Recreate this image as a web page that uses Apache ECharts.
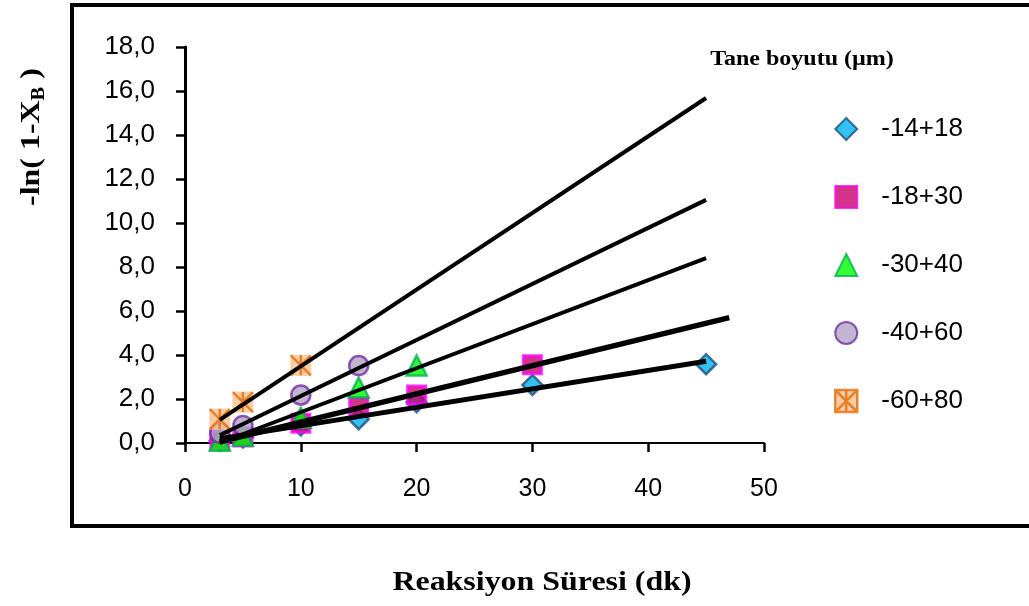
<!DOCTYPE html>
<html>
<head>
<meta charset="utf-8">
<script src="https://cdn.jsdelivr.net/npm/echarts@6/dist/echarts.min.js"></script>
<style>
  html, body { margin: 0; padding: 0; background: #fff; }
  #chart { width: 1029px; height: 606px; }
</style>
</head>
<body>
<div id="chart"></div>
<script>
// reaksiyon süresi (dk) of the measured points
var times = [3, 5, 10, 15, 20, 30, 45];
var sizeNames = ['-14+18', '-18+30', '-30+40', '-40+60', '-60+80'];

// -ln(1-XB) per particle size
var y1418 = [0.1, 0.25, 0.8, 1.08, 1.85, 2.64, 3.58];
var y1830 = [0.12, 0.27, 0.9, 1.65, 2.18, 3.56];
var y3040 = [0.1, 0.33, 1.15, 2.52, 3.52];
var y4060 = [0.45, 0.8, 2.18, 3.52];
var y6080 = [1.09, 1.86, 3.53];

// trend lines, start and end
var fit1418 = [[3, 0.2], [45, 3.72]];
var fit1830 = [[3, 0.05], [47, 5.7]];
var fit3040 = [[3, 0.0], [45, 8.4]];
var fit4060 = [[3, 0.35], [45, 11.05]];
var fit6080 = [[3, 1.05], [45, 15.68]];

var xTicks = [0, 10, 20, 30, 40, 50];
var yTicks = [0, 2, 4, 6, 8, 10, 12, 14, 16, 18];

var starPath = 'path://M0,0L20,20M20,0L0,20M10,0L10,20';
var starIcon = 'path://M0,0L20,0L20,20L0,20ZM0,0L20,20M20,0L0,20M10,0L10,20';

function pts(ys) {
  return ys.map(function (y, i) { return [times[i], y]; });
}

function trend(d, w) {
  return {
    type: 'line',
    data: d,
    symbol: 'none',
    silent: true,
    z: 5,
    lineStyle: { color: '#000', width: w }
  };
}

var chart = echarts.init(document.getElementById('chart'));

chart.setOption({
  animation: false,
  grid: { left: 185, right: 265, top: 47, bottom: 163 },
  xAxis: {
    type: 'value',
    min: xTicks[0],
    max: xTicks[xTicks.length - 1],
    interval: 10,
    splitLine: { show: false },
    axisLine: { lineStyle: { color: '#000', width: 2 } },
    axisTick: { length: 9, lineStyle: { color: '#000', width: 2.5 } },
    axisLabel: { fontSize: 25, margin: 34, color: '#000', fontFamily: 'Liberation Sans' }
  },
  yAxis: {
    type: 'value',
    min: yTicks[0],
    max: yTicks[yTicks.length - 1],
    interval: 2,
    splitLine: { show: false },
    axisLine: { show: true, lineStyle: { color: '#000', width: 3 } },
    axisTick: { show: true, length: 9, lineStyle: { color: '#000', width: 2.5 } },
    axisLabel: {
      fontSize: 26, margin: 30, color: '#000', fontFamily: 'Liberation Sans',
      formatter: function (v) { return v.toFixed(1).replace('.', ','); }
    }
  },
  legend: {
    orient: 'vertical',
    left: 834,
    top: 116,
    padding: 0,
    itemWidth: 22,
    itemHeight: 22,
    itemGap: 42,
    textStyle: { fontSize: 26, fontFamily: 'Liberation Sans', color: '#000', padding: [0, 0, 0, 19], lineHeight: 26 },
    data: [
      { name: sizeNames[0], icon: 'diamond' },
      { name: sizeNames[1], icon: 'rect' },
      { name: sizeNames[2], icon: 'triangle' },
      { name: sizeNames[3], icon: 'circle' },
      { name: sizeNames[4], icon: starIcon, itemStyle: { color: '#fac090', borderColor: '#e46c0a', borderWidth: 2.5 } }
    ]
  },
  graphic: [
    {
      type: 'rect',
      shape: { x: 72, y: 5, width: 1000, height: 521 },
      style: { fill: 'none', stroke: '#000', lineWidth: 4 }
    },
    {
      type: 'text',
      x: 33, y: 137,
      rotation: Math.PI / 2,
      scaleX: 1.14,
      style: {
        text: '{a|-ln( 1-X}{b|B}{a| )}',
        align: 'center',
        verticalAlign: 'middle',
        rich: {
          a: { fontSize: 28, fontWeight: 'bold', fontFamily: 'Liberation Serif', lineHeight: 30, verticalAlign: 'top' },
          b: { fontSize: 18, fontWeight: 'bold', fontFamily: 'Liberation Serif', lineHeight: 18, padding: [14, 0, 0, 0], verticalAlign: 'bottom' }
        }
      }
    },
    {
      type: 'text',
      x: 542, y: 583,
      scaleX: 1.14,
      style: {
        text: 'Reaksiyon Süresi (dk)',
        align: 'center',
        verticalAlign: 'middle',
        fontSize: 28,
        fontWeight: 'bold',
        fontFamily: 'Liberation Serif',
        fill: '#000'
      }
    },
    {
      type: 'text',
      x: 802, y: 60,
      scaleX: 1.2,
      style: {
        text: 'Tane boyutu (µm)',
        align: 'center',
        verticalAlign: 'middle',
        fontSize: 20,
        fontWeight: 'bold',
        fontFamily: 'Liberation Serif',
        fill: '#000'
      }
    }
  ],
  series: [
    {
      name: sizeNames[0], type: 'scatter', data: pts(y1418),
      symbol: 'diamond', symbolSize: 20,
      itemStyle: { color: '#00b0f0', borderColor: '#1f4e79', borderWidth: 2.5 }
    },
    {
      name: sizeNames[1], type: 'scatter', data: pts(y1830),
      symbol: 'rect', symbolSize: 18,
      itemStyle: { color: '#c8006a', borderColor: '#ff00ff', borderWidth: 3 }
    },
    {
      name: sizeNames[2], type: 'scatter', data: pts(y3040),
      symbol: 'triangle', symbolSize: 20,
      itemStyle: { color: '#00ff00', borderColor: '#00b050', borderWidth: 2.5 }
    },
    {
      name: sizeNames[3], type: 'scatter', data: pts(y4060),
      symbol: 'circle', symbolSize: 19,
      itemStyle: { color: '#b3a2c7', borderColor: '#7030a0', borderWidth: 2.5 }
    },
    {
      name: 'bg6080', type: 'scatter', data: pts(y6080),
      symbol: 'rect', symbolSize: 21, silent: true,
      itemStyle: { color: '#fac090' }
    },
    {
      name: sizeNames[4], type: 'scatter', data: pts(y6080),
      symbol: starPath, symbolSize: 20,
      itemStyle: { color: '#fac090', borderColor: '#e46c0a', borderWidth: 2.5 }
    },
    trend(fit1418, 5),
    trend(fit1830, 5.5),
    trend(fit3040, 4),
    trend(fit4060, 4),
    trend(fit6080, 4)
  ]
});
</script>
</body>
</html>
